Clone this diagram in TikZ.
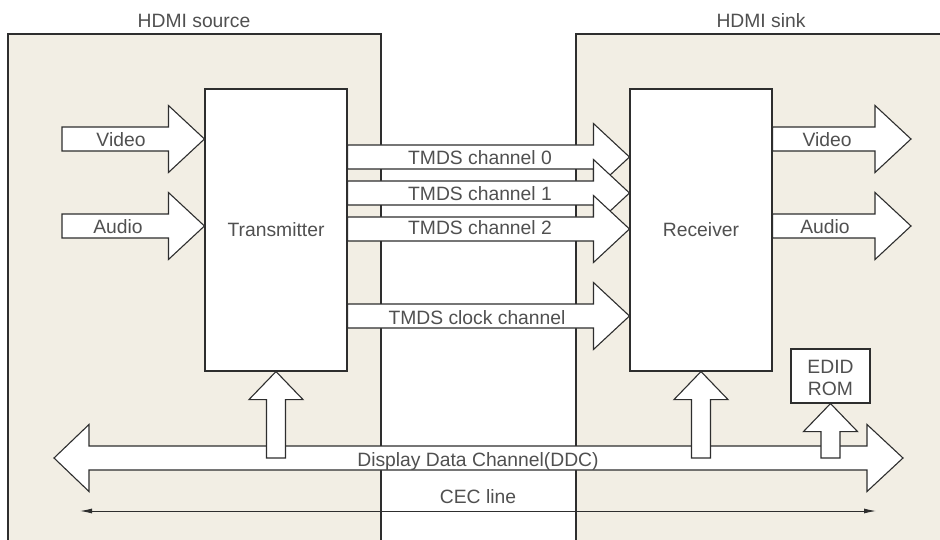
\documentclass[tikz,border=0pt]{standalone}
\usepackage{fontspec}
\setmainfont{Liberation Sans}
\usetikzlibrary{calc,arrows.meta}

\definecolor{panelfill}{HTML}{F2EEE4}
\definecolor{ink}{HTML}{2E2E2E}
\definecolor{labelgray}{HTML}{505050}

\tikzset{
  lbl/.style={font=\fontsize{19.3}{22}\selectfont, text=labelgray, inner sep=0pt},
  panelbox/.style={draw=ink, line width=1.1pt, fill=panelfill},
  block/.style={draw=ink, line width=1.1pt, fill=white, inner sep=0pt, lbl},
  fatarrow/.style={draw=ink, line width=1.1pt, fill=white, line join=miter},
  thinline/.style={draw=ink, line width=0.9pt},
}

% wide arrow pointing right, from a tail point to a tip point (tip's y is used)
\newcommand\fatright[2]{%
  \path[fatarrow] let \p1=(#1), \p2=(#2) in
    (\x1,\y2+12pt) -- (\x2-36pt,\y2+12pt) -- (\x2-36pt,\y2+33.5pt) -- (\x2,\y2)
    -- (\x2-36pt,\y2-33.5pt) -- (\x2-36pt,\y2-12pt) -- (\x1,\y2-12pt) -- cycle;}

% wide arrow with heads at both ends, left tip to right tip
\newcommand\fatboth[2]{%
  \path[fatarrow] let \p1=(#1), \p2=(#2) in
    (\x1,\y1) -- (\x1+35pt,\y1+33.5pt) -- (\x1+35pt,\y1+12pt) -- (\x2-36pt,\y1+12pt)
    -- (\x2-36pt,\y1+33.5pt) -- (\x2,\y1) -- (\x2-36pt,\y1-33.5pt) -- (\x2-36pt,\y1-12pt)
    -- (\x1+35pt,\y1-12pt) -- (\x1+35pt,\y1-33.5pt) -- cycle;}

% narrower wide arrow pointing up, from a tail point to a tip point (tip's x is used)
\newcommand\fatup[2]{%
  \path[fatarrow] let \p1=(#1), \p2=(#2) in
    (\x2-9.5pt,\y1) -- (\x2-9.5pt,\y2-28pt) -- (\x2-27pt,\y2-28pt) -- (\x2,\y2)
    -- (\x2+27pt,\y2-28pt) -- (\x2+9.5pt,\y2-28pt) -- (\x2+9.5pt,\y1) -- cycle;}

\begin{document}
\begin{tikzpicture}[x=1pt,y=-1pt]
\clip (0,0) rectangle (940,540);
\fill[white] (0,0) rectangle (940,540);

% source and sink panels
\path[panelbox] (8,34) rectangle (381,560);
\path[panelbox] (576,34) rectangle (960,560);
\node[lbl, anchor=base] (srcname) at (194,28) {HDMI source};
\node[lbl, anchor=base] (snkname) at (761,28) {HDMI sink};

% main blocks
\node[block, minimum width=142pt, minimum height=282pt] (tx) at (276,230) {Transmitter};
\node[block, minimum width=142pt, minimum height=282pt] (rx) at (701,230) {Receiver};

% arrow end points
\coordinate (vin)  at (62,139);
\coordinate (ain)  at (62,226);
\coordinate (vout) at (911,139);
\coordinate (aout) at (911,226);
\coordinate (ch0)  at (0,157);
\coordinate (ch1)  at (0,193);
\coordinate (ch2)  at (0,229);
\coordinate (clk)  at (0,316);
\coordinate (ddcl) at (54,458);
\coordinate (ddcr) at (903,458);
\coordinate (cecl) at (80,511);
\coordinate (cecr) at (876,511);

% TMDS links
\fatright{tx.east |- ch0}{rx.west |- ch0}
\fatright{tx.east |- ch1}{rx.west |- ch1}
\fatright{tx.east |- ch2}{rx.west |- ch2}
\fatright{tx.east |- clk}{rx.west |- clk}

% video / audio in and out
\fatright{vin}{tx.west |- vin}
\fatright{ain}{tx.west |- ain}
\fatright{rx.east |- vout}{vout}
\fatright{rx.east |- aout}{aout}

% DDC bus and its taps
\fatboth{ddcl}{ddcr}
\node[block, minimum width=79pt, minimum height=54pt, align=center] (edid) at (830.5,376) {};
\fatup{tx.south |- ddcl}{tx.south}
\fatup{rx.south |- ddcl}{rx.south}
\fatup{edid.south |- ddcl}{edid.south}

% CEC line
\draw[thinline, {Latex[length=12pt,width=5pt]}-{Latex[length=12pt,width=5pt]}] (cecl) -- (cecr);

% labels
\node[lbl, anchor=base] (edidtop) at (830.5,373) {EDID};
\node[lbl, anchor=base] (edidbot) at (830.5,395) {ROM};
\node[lbl, anchor=base] (vinlbl)  at (121,147) {Video};
\node[lbl, anchor=base] (ainlbl)  at (118,234) {Audio};
\node[lbl, anchor=base] (voutlbl) at (827,147) {Video};
\node[lbl, anchor=base] (aoutlbl) at (825,234) {Audio};
\node[lbl, anchor=base] (ch0lbl)  at (480,165) {TMDS channel 0};
\node[lbl, anchor=base] (ch1lbl)  at (480,201) {TMDS channel 1};
\node[lbl, anchor=base] (ch2lbl)  at (480,235) {TMDS channel 2};
\node[lbl, anchor=base] (clklbl)  at (477,324) {TMDS clock channel};
\node[lbl, anchor=base] (ddclbl)  at (478,466) {Display Data Channel(DDC)};
\node[lbl, anchor=base] (ceclbl)  at (478,503) {CEC line};
\end{tikzpicture}
\end{document}
